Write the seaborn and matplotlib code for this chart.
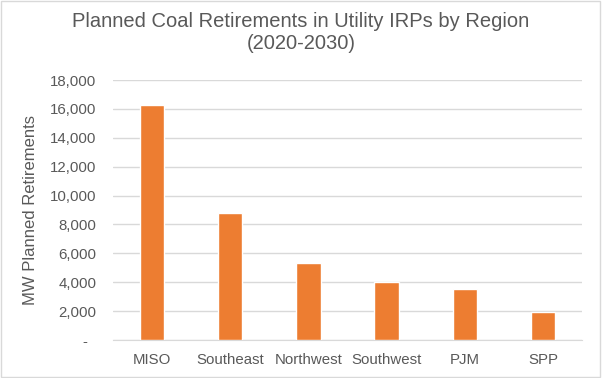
import numpy as np
import pandas as pd
import seaborn as sns
import matplotlib.pyplot as plt
from matplotlib.patches import Rectangle

regions = ['MISO', 'Southeast', 'Northwest', 'Southwest', 'PJM', 'SPP']
retirements = [16270, 8790, 5330, 4020, 3540, 1950]

df = pd.DataFrame({'region': regions, 'mw': retirements})

sns.set_style('white')
plt.rcParams['font.family'] = ['Liberation Sans', 'DejaVu Sans']
textColor = '#595959'

fig = plt.figure(figsize=(6.02, 3.78), dpi=100)
ax = fig.add_axes([113/602, 1 - 340/378, 469/602, 260/378])

sns.barplot(x='region', y='mw', data=df, color='#ED7D31', width=0.31,
            saturation=1, ax=ax, zorder=3)

ax.set_ylim(0, 18000)
ax.set_yticks(np.arange(0, 18001, 2000))
ax.set_yticklabels(['-  '] + [f'{v:,}' for v in range(2000, 18001, 2000)])
ax.yaxis.grid(True, color='#D9D9D9', linewidth=1, zorder=0)
for s in ['top', 'right', 'left']:
    ax.spines[s].set_visible(False)
ax.spines['bottom'].set_color('#D9D9D9')
ax.tick_params(axis='both', length=0, labelsize=10.8, colors=textColor)
ax.tick_params(axis='x', pad=9)
ax.tick_params(axis='y', pad=12)

ax.set_xlabel('')
ax.set_ylabel('MW Planned Retirements', fontsize=12, color=textColor)
ax.yaxis.set_label_coords((38 - 113) / 469, 0.5)

fig.text(0.5, 1 - 32.5/378, 'Planned Coal Retirements in Utility IRPs by Region\n(2020-2030)',
         ha='center', va='center', fontsize=14.5, color=textColor, linespacing=1.2)

# chart border
fig.patches.append(Rectangle((0.002, 0.003), 0.995, 0.994, transform=fig.transFigure,
                             fill=False, edgecolor='#D9D9D9', linewidth=1))

plt.savefig('out.png', dpi=100)
